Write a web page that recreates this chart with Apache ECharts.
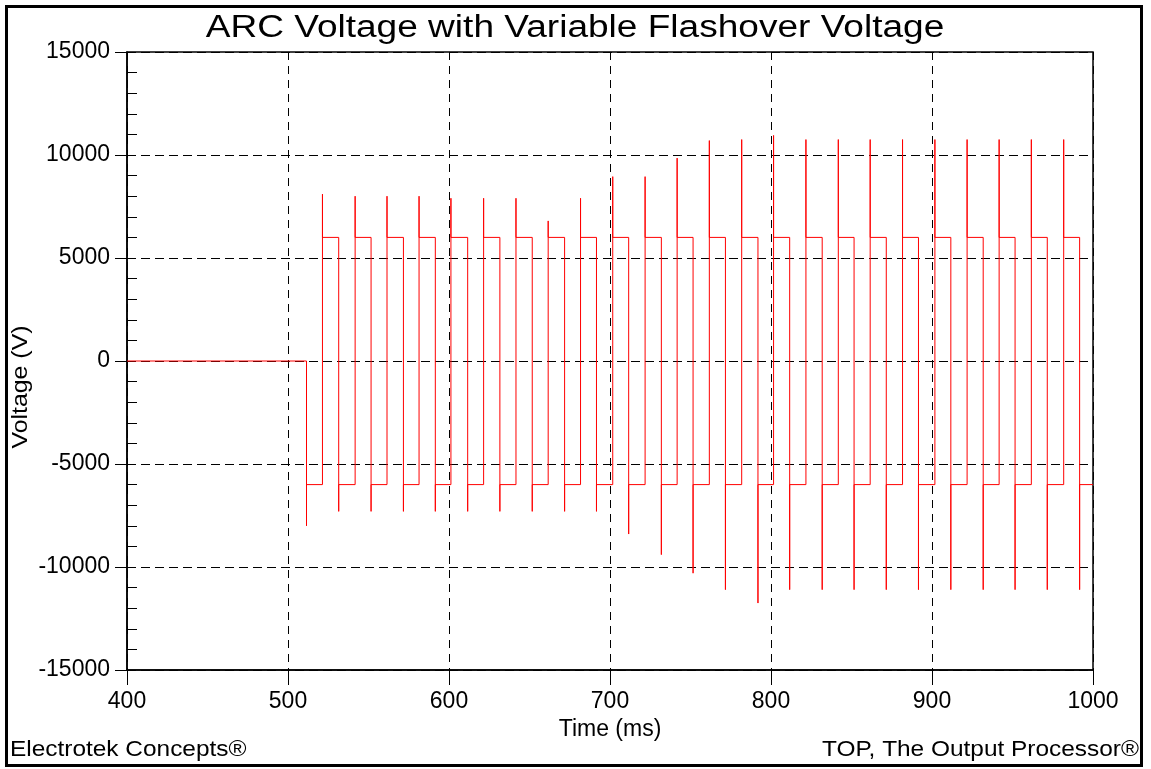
<!DOCTYPE html>
<html><head><meta charset="utf-8">
<script src="https://cdn.jsdelivr.net/npm/echarts@6/dist/echarts.min.js"></script>
<style>html,body{margin:0;padding:0;background:#fff}#c{width:1151px;height:769px}</style>
</head><body><div id="c"></div>
<script>
const titleText = 'ARC Voltage with Variable Flashover Voltage';
const xName = 'Time (ms)';
const yName = 'Voltage (V)';
const footerLeft = 'Electrotek Concepts®';
const footerRight = 'TOP, The Output Processor®';
const xRange = [400, 1000];
const xStep = 100;
const yRange = [-15000, 15000];
const yStep = 5000;
const preFaultV = 0;
const arcLevel = 6000;
// times (ms) at which the arc voltage flips polarity, and the overshoot spike at each flip (V)
const edgeTimes = [511.5, 521.4, 531.5, 541.7, 551.6, 561.5, 571.7, 581.4, 591.5, 601.2,
  611.6, 621.5, 631.6, 641.6, 651.7, 661.6, 671.8, 681.7, 691.6, 701.7,
  711.6, 721.8, 731.9, 741.7, 751.6, 761.7, 771.7, 781.8, 791.9, 801.6,
  811.6, 821.7, 831.8, 841.8, 851.6, 861.6, 871.6, 881.7, 891.6, 901.8,
  911.7, 921.8, 931.8, 941.7, 951.6, 961.7, 971.6, 981.8, 991.7];
const edgePeaks = [-8000, 8100, -7300, 8000, -7300, 8000, -7300, 8000, -7300, 7900,
  -7300, 7900, -7300, 7900, -7300, 6800, -7300, 7900, -7300, 8950,
  -8400, 8950, -9400, 9850, -10300, 10700, -11100, 10750, -11750, 10950,
  -11100, 10750, -11100, 10750, -11100, 10750, -11100, 10750, -11100, 10750,
  -11100, 10750, -11100, 10750, -11100, 10750, -11100, 10750, -11100];

const data = [[xRange[0], preFaultV]];
let prev = preFaultV;
edgeTimes.forEach((t, i) => {
  const pk = edgePeaks[i];
  const lvl = pk > 0 ? arcLevel : -arcLevel;
  data.push([t, prev], [t, pk], [t, lvl]);
  prev = lvl;
});
data.push([xRange[1], prev]);

const FONT = "'Liberation Sans', Arial, sans-serif";
const plain = v => String(v);
const chart = echarts.init(document.getElementById('c'), null, {renderer: 'canvas'});
chart.setOption({
  animation: false,
  backgroundColor: '#fff',
  grid: {left: 127, top: 52, right: 58, bottom: 99, show: true, borderColor: '#000', borderWidth: 1.5},
  xAxis: {
    type: 'value', min: xRange[0], max: xRange[1], interval: xStep,
    name: xName, nameLocation: 'middle', nameGap: 42,
    nameTextStyle: {fontFamily: FONT, fontSize: 23, color: '#000'},
    axisLine: {show: true, onZero: false, lineStyle: {color: '#000', width: 1.5}},
    axisTick: {show: true, length: 15, lineStyle: {color: '#000', width: 1}},
    axisLabel: {fontFamily: FONT, fontSize: 23, color: '#000', margin: 20, formatter: plain},
    splitLine: {show: true, lineStyle: {color: '#000', width: 1, type: [8, 6]}}
  },
  yAxis: [{
    type: 'value', min: yRange[0], max: yRange[1], interval: yStep,
    axisLine: {show: true, onZero: false, lineStyle: {color: '#000', width: 1.5}},
    axisTick: {show: true, length: 12, lineStyle: {color: '#000', width: 1}},
    axisLabel: {fontFamily: FONT, fontSize: 23, color: '#000', margin: 17, formatter: plain},
    splitLine: {show: true, lineStyle: {color: '#000', width: 1, type: [9, 5]}}
  }, {
    type: 'value', min: yRange[0], max: yRange[1], interval: yStep, position: 'left',
    axisLine: {show: false, onZero: false}, axisLabel: {show: false}, splitLine: {show: false},
    axisTick: {show: false, inside: true},
    minorTick: {show: true, splitNumber: 5, length: 10, lineStyle: {color: '#000', width: 1}}
  }],
  graphic: [
    {type: 'rect', shape: {x: 6.5, y: 6.5, width: 1135, height: 759}, style: {fill: null, stroke: '#000', lineWidth: 3}, z: 10},
    {type: 'text', x: 575, y: 28, scaleX: 1.195, style: {text: titleText, font: '31px ' + FONT, fill: '#000', textAlign: 'center', textVerticalAlign: 'middle'}},
    {type: 'text', x: 21, y: 387, rotation: Math.PI / 2, scaleX: 1.13, style: {text: yName, font: '22px ' + FONT, fill: '#000', textAlign: 'center', textVerticalAlign: 'middle'}},
    {type: 'text', x: 10, y: 750, scaleX: 1.11, style: {text: footerLeft, font: '22px ' + FONT, fill: '#000', textAlign: 'left', textVerticalAlign: 'middle'}},
    {type: 'text', x: 1139, y: 750, scaleX: 1.11, style: {text: footerRight, font: '22px ' + FONT, fill: '#000', textAlign: 'right', textVerticalAlign: 'middle'}}
  ],
  series: [{
    type: 'line', data: data, showSymbol: false, symbol: 'none', sampling: null,
    xAxisIndex: 0, yAxisIndex: 0,
    lineStyle: {color: '#ff0000', width: 1}, z: 5
  }]
});
</script></body></html>
